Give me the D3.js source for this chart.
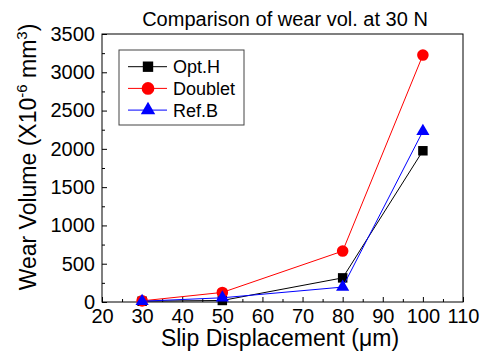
<!DOCTYPE html>
<head>
  <title>Comparison of wear vol. at 30 N</title>
  <script src="https://cdn.jsdelivr.net/npm/d3@7"></script>
  <style>
    body { margin: 0; background: #fff; }
    text { font-family: Arial, "Liberation Sans", sans-serif; fill: #000; }
  </style>
</head>
<body>
  <svg id="chart" width="482" height="358"></svg>

  <script>
    // slip displacement (um)
    const slip = [30, 50, 80, 100];
    // wear volume (x10^-6 mm^3)
    const optH = [10, 20, 315, 1975];
    const doublet = [15, 125, 665, 3225];
    const refB = [10, 55, 195, 2230];

    const seriesNames = ["Opt.H", "Doublet", "Ref.B"];
    const seriesColors = ["#000000", "#ff0000", "#0000ff"];
    const seriesSymbols = [d3.symbolSquare, d3.symbolCircle, d3.symbolTriangle];
    const seriesSizes = [90, 105, 75];

    const xTicks = [20, 30, 40, 50, 60, 70, 80, 90, 100, 110];
    const yTicks = [0, 500, 1000, 1500, 2000, 2500, 3000, 3500];

    var margin = { top: 34, right: 19, bottom: 56, left: 102 },
      width = 482 - margin.left - margin.right,
      height = 358 - margin.top - margin.bottom;

    var svg = d3.select("svg#chart");
    var g = svg
      .append("g")
      .attr("transform", "translate(" + margin.left + "," + margin.top + ")");

    var x = d3.scaleLinear().domain([20, 110]).range([0, width]);
    var y = d3.scaleLinear().domain([0, 3500]).range([height, 0]);

    // minor ticks (no labels)
    g.append("g")
      .attr("transform", "translate(0," + height + ")")
      .call(d3.axisBottom(x).tickValues(d3.range(25, 110, 10)).tickSize(-3))
      .call((a) => a.select(".domain").remove())
      .call((a) => a.selectAll("text").remove());
    g.append("g")
      .call(d3.axisLeft(y).tickValues(d3.range(250, 3500, 500)).tickSize(-3))
      .call((a) => a.select(".domain").remove())
      .call((a) => a.selectAll("text").remove());

    // major ticks
    g.append("g")
      .attr("transform", "translate(0," + height + ")")
      .call(d3.axisBottom(x).tickValues(xTicks).tickSize(-5).tickPadding(7))
      .call((a) => a.select(".domain").remove())
      .selectAll("text")
      .style("font-size", "20px");
    g.append("g")
      .call(d3.axisLeft(y).tickValues(yTicks).tickSize(-5).tickPadding(7).tickFormat(d3.format("d")))
      .call((a) => a.select(".domain").remove())
      .selectAll("text")
      .style("font-size", "20px");

    // frame
    g.append("rect")
      .attr("width", width)
      .attr("height", height)
      .attr("fill", "none")
      .attr("stroke", "#000")
      .attr("stroke-width", 1);

    // series
    const allSeries = [optH, doublet, refB];
    allSeries.forEach(function (vals, i) {
      var pts = slip.map((s, j) => ({ x: s, y: vals[j] }));
      g.append("path")
        .datum(pts)
        .attr("fill", "none")
        .attr("stroke", seriesColors[i])
        .attr("stroke-width", 1)
        .attr(
          "d",
          d3.line()
            .x((d) => x(d.x))
            .y((d) => y(d.y))
        );
      g.selectAll(".pt" + i)
        .data(pts)
        .enter()
        .append("path")
        .attr("transform", (d) => "translate(" + x(d.x) + "," + y(d.y) + ")")
        .attr("d", d3.symbol().type(seriesSymbols[i]).size(seriesSizes[i]))
        .attr("fill", seriesColors[i]);
    });

    // legend
    var legend = svg.append("g").attr("transform", "translate(119,50)");
    legend.append("rect")
      .attr("width", 125)
      .attr("height", 75)
      .attr("fill", "#fff")
      .attr("stroke", "#444")
      .attr("stroke-width", 1);
    seriesNames.forEach(function (name, i) {
      var row = legend.append("g").attr("transform", "translate(0," + (16.7 + i * 21.7) + ")");
      row.append("line")
        .attr("x1", 9).attr("x2", 48)
        .attr("stroke", seriesColors[i])
        .attr("stroke-width", 1);
      row.append("path")
        .attr("transform", "translate(29,0)")
        .attr("d", d3.symbol().type(seriesSymbols[i]).size(seriesSizes[i] * 1.2))
        .attr("fill", seriesColors[i]);
      row.append("text")
        .attr("x", 54)
        .attr("dy", "0.36em")
        .style("font-size", "18px")
        .text(name);
    });

    // title
    svg.append("text")
      .attr("x", 285)
      .attr("y", 26)
      .attr("text-anchor", "middle")
      .style("font-size", "20px")
      .text("Comparison of wear vol. at 30 N");

    // x label
    svg.append("text")
      .attr("x", 280)
      .attr("y", 346)
      .attr("text-anchor", "middle")
      .style("font-size", "23px")
      .text("Slip Displacement (\u03bcm)");

    // y label
    var yl = svg.append("text")
      .attr("transform", "translate(36,157) rotate(-90)")
      .attr("text-anchor", "middle")
      .style("font-size", "23px");
    yl.append("tspan").text("Wear Volume (X10");
    yl.append("tspan").attr("dy", "-9").style("font-size", "15px").text("-6");
    yl.append("tspan").attr("dy", "9").text(" mm");
    yl.append("tspan").attr("dy", "-9").style("font-size", "15px").text("3");
    yl.append("tspan").attr("dy", "9").text(")");
  </script>
</body>
